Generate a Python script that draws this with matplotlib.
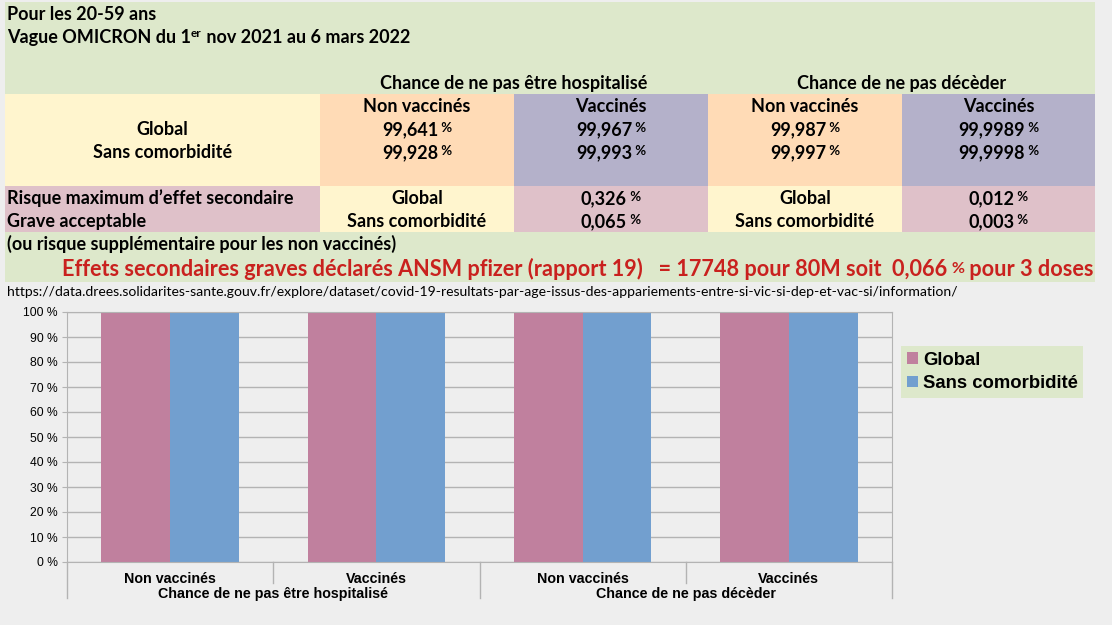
import matplotlib
matplotlib.use('Agg')
import matplotlib.pyplot as plt
from matplotlib.patches import Rectangle
import matplotlib.transforms as mtransforms
import numpy as np

# ---------------- data ----------------
categories = ['Non vaccinés', 'Vaccinés', 'Non vaccinés', 'Vaccinés']
groups = ['Chance de ne pas être hospitalisé', 'Chance de ne pas décèder']
series_names = ['Global', 'Sans comorbidité']
global_vals = [99.641, 99.967, 99.987, 99.9989]
sans_comorb_vals = [99.928, 99.993, 99.997, 99.9998]
risk_global = [0.326, 0.012]
risk_sans_comorb = [0.065, 0.003]
y_ticks = [0, 10, 20, 30, 40, 50, 60, 70, 80, 90, 100]
title_line1 = 'Pour les 20-59 ans'
risk_label = ['Risque maximum d\u2019effet secondaire', 'Grave acceptable']
note_text = '(ou risque supplémentaire pour les non vaccinés)'
red_text_a = 'Effets secondaires graves déclarés ANSM pfizer (rapport 19)   = 17748 pour 80M soit  0,066'
red_text_b = ' pour 3 doses'
url_text = 'https://data.drees.solidarites-sante.gouv.fr/explore/dataset/covid-19-resultats-par-age-issus-des-appariements-entre-si-vic-si-dep-et-vac-si/information/'

# ---------------- style ----------------
W, H = 1112, 625
BG = '#EEEEEE'
GREEN = '#DDE8CB'
YELLOW = '#FFF5CE'
ORANGE = '#FFDBB6'
PURPLE = '#B4B1CA'
PINK = '#DFC1C9'
RED = '#C9211E'
BAR_PINK = '#C0809E'
BAR_BLUE = '#729FCF'
TFONT = ['Lato', 'DejaVu Sans']
CFONT = ['Liberation Sans', 'DejaVu Sans']

def fmt(v):
    return str(v).replace('.', ',')

fig = plt.figure(figsize=(W / 100, H / 100), dpi=100)
fig.patch.set_facecolor(BG)
renderer = fig.canvas.get_renderer()

ov = fig.add_axes([0, 0, 1, 1])
ov.set_xlim(0, W)
ov.set_ylim(H, 0)
ov.axis('off')
ov.set_zorder(0)


def rect(x0, y0, x1, y1, c):
    ov.add_patch(Rectangle((x0, y0), x1 - x0, y1 - y0, facecolor=c, edgecolor='none', zorder=1))


def rich(x, yb, pieces, ha='left', color='black', family=TFONT):
    arts, ws = [], []
    for s, size, dy, weight in pieces:
        t = ov.text(0, yb + dy, s, fontsize=size, fontweight=weight, color=color,
                    va='baseline', ha='left', family=family, zorder=3)
        ws.append(t.get_window_extent(renderer).width)
        arts.append(t)
    total = sum(ws)
    x0 = x if ha == 'left' else (x - total / 2 if ha == 'center' else x - total)
    for t, w in zip(arts, ws):
        t.set_x(x0)
        x0 += w


FS = 13
PS = 9.5
cols = [5, 320, 514, 708, 902, 1095]
centers = [(cols[i] + cols[i + 1]) / 2 for i in range(5)]

# table backgrounds
rect(5, 2, 1095, 282, GREEN)
band1 = [YELLOW, ORANGE, PURPLE, ORANGE, PURPLE]
band2 = [PINK, YELLOW, PINK, YELLOW, PINK]
for i in range(5):
    rect(cols[i], 94, cols[i + 1], 186, band1[i])
    rect(cols[i], 186, cols[i + 1], 232, band2[i])

# header text
rich(7, 20, [(title_line1, FS, 0, 'bold')])
rich(7, 43, [('Vague OMICRON du 1', FS, 0, 'bold'), ('er', 8.5, -6, 'bold'),
             (' nov 2021 au 6 mars 2022', FS, 0, 'bold')])
rich((cols[1] + cols[3]) / 2, 89, [(groups[0], FS, 0, 'bold')], ha='center')
rich((cols[3] + cols[5]) / 2, 89, [(groups[1], FS, 0, 'bold')], ha='center')
for i, c in enumerate(categories):
    rich(centers[i + 1], 112, [(c, FS, 0, 'bold')], ha='center')

rich(centers[0], 135, [(series_names[0], FS, 0, 'bold')], ha='center')
rich(centers[0], 158, [(series_names[1], FS, 0, 'bold')], ha='center')
for i in range(4):
    rich(centers[i + 1], 135, [(fmt(global_vals[i]), FS, 0, 'bold'), (' %', PS, -3, 'bold')], ha='center')
    rich(centers[i + 1], 158, [(fmt(sans_comorb_vals[i]), FS, 0, 'bold'), (' %', PS, -3, 'bold')], ha='center')

rich(7, 204, [(risk_label[0], FS, 0, 'bold')])
rich(7, 227, [(risk_label[1], FS, 0, 'bold')])
for k, ci in enumerate([1, 3]):
    rich(centers[ci], 204, [(series_names[0], FS, 0, 'bold')], ha='center')
    rich(centers[ci], 227, [(series_names[1], FS, 0, 'bold')], ha='center')
    rich(centers[ci + 1], 204, [(fmt(risk_global[k]), FS, 0, 'bold'), (' %', PS, -3, 'bold')], ha='center')
    rich(centers[ci + 1], 227, [(fmt(risk_sans_comorb[k]), FS, 0, 'bold'), (' %', PS, -3, 'bold')], ha='center')

rich(7, 250, [(note_text, FS, 0, 'bold')])
rich(1094, 276, [(red_text_a, 15.6, 0, 'bold'), (' %', 11.5, -3, 'bold'), (red_text_b, 15.6, 0, 'bold')],
     ha='right', color=RED)
rich(7, 296, [(url_text, 10.05, 0, 'normal')])

# ---------------- chart ----------------
ax = fig.add_axes([67 / W, (H - 562) / H, 825 / W, 250 / H])
ax.set_zorder(2)
ax.set_facecolor(BG)
x = np.arange(len(categories))
bw = 0.333
ax.bar(x - bw / 2, global_vals, bw, color=BAR_PINK, label=series_names[0], zorder=2)
ax.bar(x + bw / 2, sans_comorb_vals, bw, color=BAR_BLUE, label=series_names[1], zorder=2)
ax.set_xlim(-0.5, len(categories) - 0.5)
ax.set_ylim(0, 100)
ax.set_yticks(y_ticks)
ax.set_yticklabels([f'{v} %' for v in y_ticks], family=CFONT, fontsize=8.7)
ax.yaxis.grid(True, color='#B3B3B3', lw=1)
ax.set_axisbelow(True)
ax.set_xticks([])
ax.tick_params(axis='y', length=3.3, color='#B3B3B3', pad=3.6)
for s in ax.spines.values():
    s.set_color('#B3B3B3')

tr = mtransforms.blended_transform_factory(ax.transData, ax.transAxes)
for i, c in enumerate(categories):
    ax.text(x[i], -0.068, c, transform=tr, ha='center', va='center', family=CFONT,
            fontsize=10.3, fontweight='bold')
for g, name in enumerate(groups):
    ax.text(2 * g + 0.5, -0.128, name, transform=tr, ha='center', va='center', family=CFONT,
            fontsize=10.3, fontweight='bold')
for b in [-0.5, 1.5, 3.5]:
    ax.plot([b, b], [0, -0.144], transform=tr, color='#B3B3B3', lw=1, clip_on=False)
for b in [0.5, 2.5]:
    ax.plot([b, b], [0, -0.084], transform=tr, color='#B3B3B3', lw=1, clip_on=False)

leg = ax.legend(loc='upper left', bbox_to_anchor=(901 / W, 1 - 346 / H), bbox_transform=fig.transFigure,
                frameon=True, facecolor=GREEN, edgecolor='none', fancybox=False, framealpha=1,
                prop={'family': CFONT, 'weight': 'bold', 'size': 13.3},
                handlelength=0.6, handleheight=0.6, handletextpad=0.28, labelspacing=0.35,
                borderpad=0.3, borderaxespad=0)

fig.savefig('out.png', dpi=100, facecolor=BG)
